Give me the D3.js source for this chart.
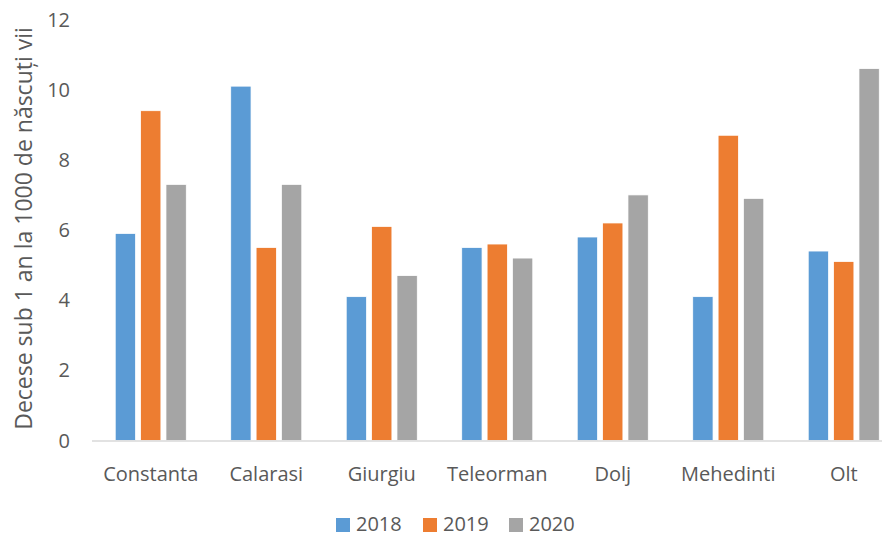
<!DOCTYPE html>
<html><head><meta charset="utf-8">
<script src="https://cdn.jsdelivr.net/npm/d3@7"></script>
<style>body{margin:0;background:#fff}svg{display:block}text{font-family:"Open Sans",sans-serif;fill:#595959}</style>
</head><body><svg id="c" width="891" height="537"></svg>
<script>
const categories = ["Constanta","Calarasi","Giurgiu","Teleorman","Dolj","Mehedinti","Olt"];
const years = ["2018","2019","2020"];
const v2018 = [5.9,10.1,4.1,5.5,5.8,4.1,5.4];
const v2019 = [9.4,5.5,6.1,5.6,6.2,8.7,5.1];
const v2020 = [7.3,7.3,4.7,5.2,7.0,6.9,10.6];
const yTicks = [0,2,4,6,8,10,12];
const colors = ["#5B9BD5","#ED7D31","#A5A5A5"];
const yTitle = "Decese sub 1 an la 1000 de născuți vii";

const series = [v2018,v2019,v2020];
const svg = d3.select("#c");
const x = d3.scaleBand().domain(categories).range([93,901.5]).paddingInner(0.385).paddingOuter(0.1925);
const xs = d3.scaleBand().domain(years).range([0,x.bandwidth()]).paddingInner(0.2);
const y = d3.scaleLinear().domain([0,12]).range([440.5,19.5]);

categories.forEach((c,i)=>{
  years.forEach((yr,j)=>{
    svg.append("rect")
      .attr("x",x(c)+xs(yr)).attr("width",xs.bandwidth())
      .attr("y",y(series[j][i])).attr("height",y(0)-y(series[j][i]))
      .attr("fill",colors[j]).attr("stroke","#fff").attr("stroke-width",0.75);
  });
});
svg.append("line").attr("x1",92).attr("x2",882).attr("y1",y(0)+0.5).attr("y2",y(0)+0.5)
  .attr("stroke","#D9D9D9").attr("stroke-width",1.5);
svg.selectAll(".yt").data(yTicks).enter().append("text")
  .attr("x",70).attr("y",d=>y(d)).attr("dy","0.35em").attr("text-anchor","end")
  .style("font-size","20px").text(d=>d);
svg.selectAll(".xl").data(categories).enter().append("text")
  .attr("x",d=>x(d)+x.bandwidth()/2).attr("y",474).attr("dy","0.35em").attr("text-anchor","middle")
  .style("font-size","20px").text(d=>d);
svg.append("text").attr("transform","translate(24,228.5) rotate(-90)").attr("dy","0.35em")
  .attr("text-anchor","middle").style("font-size","23px").text(yTitle);
const lx = [336,423,509];
years.forEach((yr,j)=>{
  svg.append("rect").attr("x",lx[j]).attr("y",518).attr("width",14).attr("height",14).attr("fill",colors[j]);
  svg.append("text").attr("x",lx[j]+20).attr("y",524).attr("dy","0.35em").style("font-size","20px").text(yr);
});
</script></body></html>
